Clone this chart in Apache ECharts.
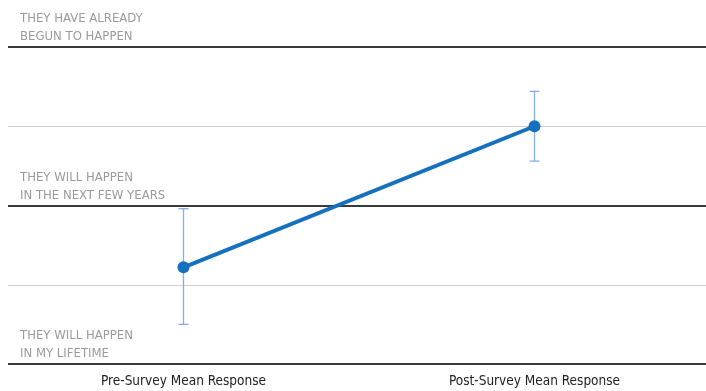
<!DOCTYPE html>
<html>
<head>
<meta charset="utf-8">
<script src="https://cdn.jsdelivr.net/npm/echarts@6/dist/echarts.min.js"></script>
<style>
  html, body { margin: 0; padding: 0; background: #fff; }
  #chart { width: 706px; height: 391px; }
</style>
</head>
<body>
<div id="chart"></div>
<script>
// Survey stages on the x axis
const categories = ['Pre-Survey Mean Response', 'Post-Survey Mean Response'];
// Mean response on the 1–3 answer scale
const meanValues = [1.61, 2.50];
// Lower and upper ends of the error bars
const lowerValues = [1.25, 2.28];
const upperValues = [1.98, 2.72];
// Answer scale labels, one per whole value
const scaleLabels = {
  1: 'THEY WILL HAPPEN\nIN MY LIFETIME',
  2: 'THEY WILL HAPPEN\nIN THE NEXT FEW YEARS',
  3: 'THEY HAVE ALREADY\nBEGUN TO HAPPEN'
};

const FONT = '"Liberation Sans Narrow", "DejaVu Sans Condensed", "Roboto", sans-serif';
const chart = echarts.init(document.getElementById('chart'));

const errorData = categories.map((c, i) => [i, lowerValues[i], upperValues[i]]);

chart.setOption({
  animation: false,
  grid: { left: 8, width: 702, top: 47, bottom: 27, containLabel: false, outerBoundsMode: 'none' },
  xAxis: {
    type: 'category',
    data: categories,
    axisLine: { show: false },
    axisTick: { show: false },
    axisLabel: { color: '#222', fontFamily: FONT, fontSize: 13.5, margin: 10 }
  },
  yAxis: [
    {
      type: 'value', min: 1, max: 3, interval: 0.5,
      axisLine: { show: false }, axisTick: { show: false },
      axisLabel: { show: false },
      splitLine: { lineStyle: { color: '#d0d0d0', width: 1 } }
    },
    {
      type: 'value', min: 1, max: 3, interval: 1, position: 'left',
      axisLine: { show: false }, axisTick: { show: false },
      axisLabel: {
        inside: true,
        margin: 12,
        align: 'left',
        verticalAlign: 'bottom',
        padding: [0, 0, 1, 0],
        color: '#9a9a9a',
        fontFamily: FONT,
        fontSize: 13,
        lineHeight: 18,
        formatter: v => scaleLabels[v] || ''
      },
      splitLine: { lineStyle: { color: '#3a3a3a', width: 2 } }
    }
  ],
  series: [
    {
      type: 'custom',
      data: errorData,
      z: 1,
      renderItem: (params, api) => {
        const x = api.value(0);
        const lo = api.coord([x, api.value(1)]);
        const hi = api.coord([x, api.value(2)]);
        const cap = 5;
        const style = { stroke: '#86aee6', lineWidth: 1.3 };
        return {
          type: 'group',
          children: [
            { type: 'line', shape: { x1: hi[0], y1: hi[1], x2: lo[0], y2: lo[1] }, style },
            { type: 'line', shape: { x1: hi[0] - cap, y1: hi[1], x2: hi[0] + cap, y2: hi[1] }, style },
            { type: 'line', shape: { x1: lo[0] - cap, y1: lo[1], x2: lo[0] + cap, y2: lo[1] }, style }
          ]
        };
      }
    },
    {
      type: 'line',
      data: meanValues,
      z: 3,
      symbol: 'circle',
      symbolSize: 12,
      lineStyle: { color: '#1570be', width: 4 },
      itemStyle: { color: '#1570be' }
    }
  ]
});
</script>
</body>
</html>
